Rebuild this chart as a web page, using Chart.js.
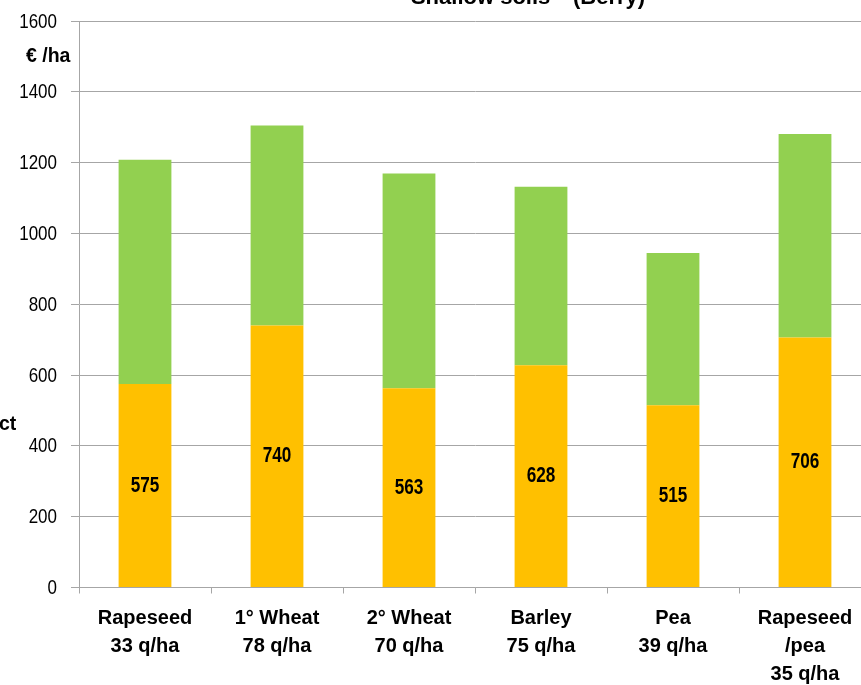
<!DOCTYPE html>
<html>
<head>
<meta charset="utf-8">
<script src="https://cdn.jsdelivr.net/npm/chart.js@4/dist/chart.umd.min.js"></script>
<style>
  html, body { margin: 0; padding: 0; background: #fff; overflow: hidden; width: 861px; height: 685px; }
  #wrap { position: absolute; left: 0; top: 0; width: 880px; height: 685px; }
</style>
</head>
<body>
<div id="wrap"><canvas id="chart" width="880" height="685"></canvas></div>
<script>
// Crops and yields (one array entry per bar, multi-line labels)
const categories = [
  ["Rapeseed", "33 q/ha"],
  ["1° Wheat", "78 q/ha"],
  ["2° Wheat", "70 q/ha"],
  ["Barley", "75 q/ha"],
  ["Pea", "39 q/ha"],
  ["Rapeseed", "/pea", "35 q/ha"]
];
// Lower (orange) segment, €/ha – labelled inside the bar
const lowerValues = [575, 740, 563, 628, 515, 706];
// Upper (green) segment, €/ha
const upperValues = [633, 565, 606, 504, 430, 575];
// Value axis ticks
const yTicks = [0, 200, 400, 600, 800, 1000, 1200, 1400, 1600];

const titleText = "Shallow soils\"  (Berry)";
const unitText = "€ /ha";
const sideText = "ct";

const GRID = "#a6a6a6";

// Draws text squeezed horizontally (condensed look)
function condensedText(ctx, text, x, y, squeeze) {
  ctx.save();
  ctx.translate(x, y);
  ctx.scale(squeeze, 1);
  ctx.fillText(text, 0, 0);
  ctx.restore();
}

// Text drawn around the plot: title, unit and side label, y tick labels,
// plus values in the orange segments
const extraText = {
  id: "extraText",
  afterDatasetsDraw(chart) {
    const ctx = chart.ctx;
    ctx.save();
    ctx.fillStyle = "#000";
    ctx.font = "bold 22px 'Liberation Sans', Arial, sans-serif";
    ctx.textAlign = "center";
    ctx.textBaseline = "alphabetic";
    ctx.fillText(titleText, 528, 4);

    ctx.font = "bold 19.5px 'Liberation Sans', Arial, sans-serif";
    ctx.textAlign = "left";
    ctx.fillText(unitText, 26, 62);
    ctx.textBaseline = "middle";
    ctx.fillText(sideText, -1, 425);

    // value-axis labels, placed through the y scale
    const ys = chart.scales.y;
    ctx.font = "20px 'Liberation Sans', Arial, sans-serif";
    ctx.textAlign = "right";
    ctx.textBaseline = "middle";
    ys.ticks.forEach(t => {
      condensedText(ctx, String(t.value), 57, ys.getPixelForValue(t.value) + 1, 0.85);
    });

    const meta = chart.getDatasetMeta(0);
    ctx.font = "bold 22px 'Liberation Sans', Arial, sans-serif";
    ctx.textAlign = "center";
    ctx.textBaseline = "middle";
    meta.data.forEach((bar, i) => {
      const yMid = (bar.y + bar.base) / 2;
      condensedText(ctx, String(lowerValues[i]), bar.x, yMid, 0.78);
    });
    ctx.restore();
  }
};

new Chart(document.getElementById("chart"), {
  type: "bar",
  data: {
    labels: categories,
    datasets: [
      { data: lowerValues, backgroundColor: "#ffc000", borderWidth: 0,
        barPercentage: 0.40, categoryPercentage: 1.0 },
      { data: upperValues, backgroundColor: "#92d050", borderWidth: 0,
        barPercentage: 0.40, categoryPercentage: 1.0 }
    ]
  },
  options: {
    responsive: false,
    animation: false,
    devicePixelRatio: 1,
    layout: { padding: { left: 0, right: 9, top: 21, bottom: 0 } },
    plugins: {
      legend: { display: false },
      title: { display: false },
      tooltip: { enabled: false }
    },
    scales: {
      x: {
        stacked: true,
        grid: { display: true, drawOnChartArea: false, drawTicks: true, tickLength: 6, color: GRID, offset: true },
        border: { display: true, color: GRID, width: 1 },
        ticks: {
          color: "#000",
          padding: 11,
          maxRotation: 0,
          autoSkip: false,
          font: { family: "'Liberation Sans', Arial, sans-serif", size: 20, weight: "bold", lineHeight: 1.4 }
        },
        afterFit(scale) { scale.height = 97.5; }
      },
      y: {
        stacked: true,
        min: yTicks[0],
        max: yTicks[yTicks.length - 1],
        afterBuildTicks(scale) { scale.ticks = yTicks.map(v => ({ value: v })); },
        grid: { color: GRID, lineWidth: 1, tickLength: 8, drawTicks: true },
        border: { display: true, color: GRID, width: 1 },
        ticks: { display: false },
        afterFit(scale) { scale.width = 79; }
      }
    }
  },
  plugins: [extraText]
});
</script>
</body>
</html>
